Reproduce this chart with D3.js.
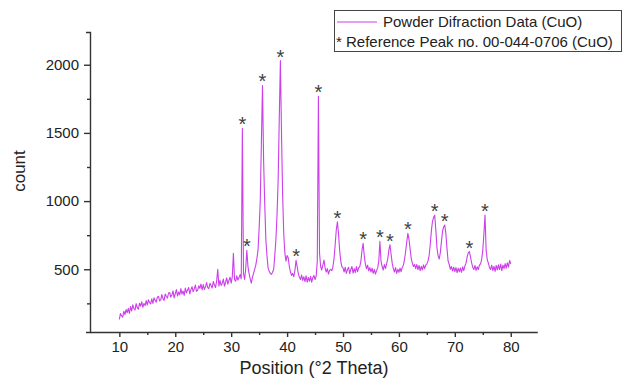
<!DOCTYPE html>
<html>
<head>
<meta charset="utf-8">
<script src="https://cdn.jsdelivr.net/npm/d3@7"></script>
<style>
  body { margin: 0; background: #fff; }
  text { font-family: Arial, "Liberation Sans", sans-serif; }
</style>
</head>
<body>
<svg id="chart" width="623" height="378"></svg>
<script>
// scan starts at 10 °2θ, one reading every 0.2 °
const thetaStart = 10;
const thetaStep = 0.2;

// counts, one row per 5 °
const counts = [
  132,176,158,149,192, 168,205,181,214,176, 226,195,240,212,201, 248,219,207,251,230, 262,221,249,234,270,
  238,276,255,246,283, 250,291,272,259,297, 301,268,276,314,285, 272,318,300,289,326, 330,296,312,341,290,
  322,351,304,333,312, 358,318,341,309,362, 327,348,366,320,351, 372,335,356,384,338, 345,379,360,392,348,
  388,352,371,402,366, 358,397,381,363,410, 386,366,414,500,377, 419,381,398,428,376, 405,437,391,418,442,
  398,446,618,425,412, 452,421,440,461,430, 1534,470,425,505,640, 520,470,430,398,440, 470,500,530,580,640,
  800,1000,1420,1848,1300, 980,720,600,510,485, 470,462,478,500,600, 720,900,1150,1600,2031, 1500,1050,760,620,560,
  600,585,520,480,455, 470,445,490,565,520, 470,440,425,458,418, 445,410,452,405,440, 412,448,405,438,455,
  425,450,560,1768,620, 520,495,530,568,510, 480,505,465,492,500, 490,520,580,680,790, 848,760,640,560,520,
  510,480,515,470,498, 515,468,500,520,472, 505,475,520,482,510, 520,560,640,690,600, 540,505,530,488,512,
  480,508,470,500,465, 490,510,560,705,560, 520,495,535,505,540, 575,640,680,610,545, 505,480,512,470,500,
  478,508,482,515,530, 570,630,700,763,720, 650,580,545,520,535, 505,535,498,528,490, 522,495,532,505,530,
  540,560,600,680,780, 850,880,897,790,660, 600,575,620,700,780, 810,825,760,650,560, 535,500,520,488,515,
  482,512,475,508,482, 510,478,518,490,525, 545,590,620,630,590, 548,515,498,528,492, 518,498,530,540,572,
  640,760,897,640,570, 545,512,498,530,490, 522,485,528,495,532, 498,538,490,530,505, 542,508,548,515,565,
  540
];

// peaks matched to reference card 00-044-0706: [2θ, count at top]
const refPeaks = [
  [32.0, 1534], [32.8, 640], [35.6, 1848], [38.8, 2031], [41.6, 565],
  [45.6, 1768], [49.0, 848], [53.6, 690], [56.6, 705], [58.4, 680],
  [61.6, 763], [66.4, 897], [68.2, 825], [72.6, 630], [75.4, 897]
];

const xTicks = [10, 20, 30, 40, 50, 60, 70, 80];
const xMinor = [15, 25, 35, 45, 55, 65, 75];
const yTicks = [500, 1000, 1500, 2000];
const yMinor = [250, 750, 1250, 1750];

const seriesName = "Powder Difraction Data (CuO)";
const refName = "* Reference Peak no. 00-044-0706 (CuO)";
const xTitle = "Position (°2 Theta)";
const yTitle = "count";

const lineColor = "#cc3fea";
const axisColor = "#333";

const svg = d3.select("#chart");

const x = d3.scaleLinear().domain([4.75, 84.75]).range([90, 537.3]);
const y = d3.scaleLinear().domain([40, 2240]).range([332, 32]);

// axes
svg.append("g").attr("transform", "translate(0,332)")
  .call(d3.axisBottom(x).tickValues(xTicks).tickFormat(d3.format("d"))
    .tickSize(5).tickSizeOuter(0).tickPadding(4));
svg.append("g").attr("transform", "translate(0,332)")
  .call(d3.axisBottom(x).tickValues(xMinor).tickSize(3).tickFormat(""))
  .select(".domain").remove();

svg.append("g").attr("transform", "translate(90,0)")
  .call(d3.axisLeft(y).tickValues(yTicks).tickFormat(d3.format("d"))
    .tickSize(6).tickSizeOuter(4).tickPadding(5));
svg.append("g").attr("transform", "translate(90,0)")
  .call(d3.axisLeft(y).tickValues(yMinor).tickSize(3).tickFormat(""))
  .select(".domain").remove();

svg.selectAll(".domain, .tick line").attr("stroke", axisColor).attr("stroke-width", 1.4);
svg.selectAll(".tick text").attr("fill", "#222").style("font-size", "15px");

svg.append("text").attr("x", 314).attr("y", 374)
  .attr("text-anchor", "middle").style("font-size", "18px").attr("fill", "#222")
  .text(xTitle);
svg.append("text").attr("transform", "translate(25,171) rotate(-90)")
  .attr("text-anchor", "middle").style("font-size", "17px").attr("fill", "#222")
  .text(yTitle);

// diffraction pattern
const line = d3.line()
  .x((d, i) => x(thetaStart + i * thetaStep))
  .y(d => y(d));

svg.append("path").datum(counts)
  .attr("d", line)
  .attr("fill", "none")
  .attr("stroke", lineColor)
  .attr("stroke-width", 1.1)
  .attr("stroke-linejoin", "round");

// asterisks over the reference peaks
svg.selectAll(".star").data(refPeaks).enter().append("text")
  .attr("class", "star")
  .attr("x", d => x(d[0]))
  .attr("y", d => y(d[1]) + 3)
  .attr("text-anchor", "middle")
  .style("font-size", "20px")
  .attr("fill", "#404040")
  .text("*");

// legend
const lg = svg.append("g");
lg.append("rect").attr("x", 334.5).attr("y", 10.5).attr("width", 287).attr("height", 41)
  .attr("fill", "#fff").attr("stroke", "#444").attr("stroke-width", 1);
lg.append("line").attr("x1", 337).attr("x2", 377).attr("y1", 22).attr("y2", 22)
  .attr("stroke", lineColor).attr("stroke-width", 1);
lg.append("text").attr("x", 383).attr("y", 27).style("font-size", "15px").attr("fill", "#222")
  .text(seriesName);
lg.append("text").attr("x", 336).attr("y", 47).style("font-size", "15px").attr("fill", "#222")
  .text(refName);
</script>
</body>
</html>
